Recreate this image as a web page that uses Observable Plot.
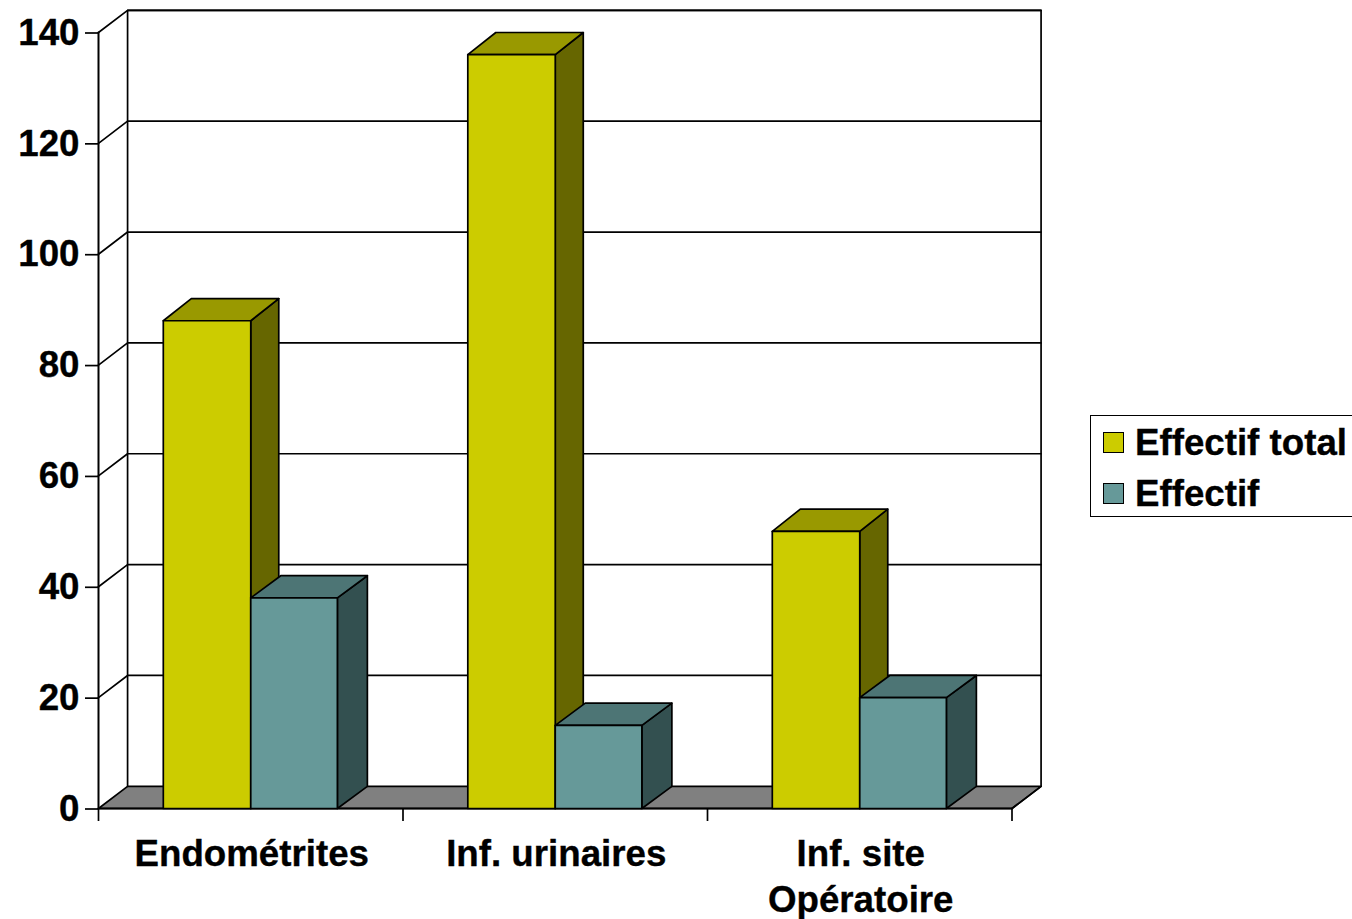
<!DOCTYPE html>
<html lang="fr">
<head>
<meta charset="utf-8">
<title>Effectifs</title>
<script src="https://cdn.jsdelivr.net/npm/d3@7"></script>
<script src="https://cdn.jsdelivr.net/npm/@observablehq/plot@0.6"></script>
<style>
  html, body { margin: 0; padding: 0; background: #fff; overflow: hidden; }
  #wrap { position: relative; width: 1352px; height: 919px; font-family: "Liberation Sans", Arial, sans-serif; }
  #wrap svg { position: absolute; left: 0; top: 0; }
  #wrap svg text { stroke: #000; stroke-width: 0.35px; }
  #legend { position: absolute; left: 1090px; top: 415px; width: 270px; height: 100px; border: 1.7px solid #000; box-sizing: content-box; background: #fff; }
  .entry { position: absolute; left: 12px; height: 22px; }
  .swatch { position: absolute; left: 0; top: 0; width: 19px; height: 19px; border: 1.7px solid #000; }
  .name { position: absolute; left: 32px; top: -9px; font-size: 36.7px; line-height: 40px; font-weight: 700; color: #000; white-space: nowrap; -webkit-text-stroke: 0.35px #000; }
</style>
</head>
<body>
<div id="wrap"></div>
<script>
const categories = ["Endométrites", "Inf. urinaires", "Inf. site\nOpératoire"];
const seriesNames = ["Effectif total", "Effectif"];
const effectifTotal = [88, 136, 50];
const effectif = [38, 15, 20];
const yTicks = [0, 20, 40, 60, 80, 100, 120, 140];
const xTicks = [0, 1, 2, 3];

const palette = [
  {front: "#cccc00", side: "#666600", top: "#999900"},
  {front: "#669999", side: "#335050", top: "#4d7575"}
];

const yMax = 140;
const nCat = categories.length;
const barWs = [0.2872, 0.2845];
const wallDx = 0.0955;
const depthDx = [0.092, 0.0985];
const depthDy = 4;
const sw = 1.7;

const P = (x, y) => ({x, y});
const poly = (pts, fill) => Plot.line(pts, {x: "x", y: "y", fill, stroke: "#000", strokeWidth: sw, curve: "linear-closed"});
const path = (pts, w = sw) => Plot.line(pts, {x: "x", y: "y", stroke: "#000", strokeWidth: w});

const marks = [];

// floor and back wall
marks.push(poly([P(0, 0), P(wallDx, depthDy), P(nCat + wallDx, depthDy), P(nCat, 0)], "#808080"));
marks.push(path([P(wallDx, depthDy), P(wallDx, yMax + depthDy), P(nCat + wallDx, yMax + depthDy), P(nCat + wallDx, depthDy), P(nCat, 0)]));
marks.push(path([P(0, 0), P(0, yMax)], 2));
marks.push(path([P(0, 0), P(nCat, 0)], 2));
// grid lines on the side wall and back wall
for (const v of yTicks.slice(1)) {
  marks.push(path([P(0, v), P(wallDx, v + depthDy), P(nCat + wallDx, v + depthDy)]));
}

// 3D bars
[effectifTotal, effectif].forEach((values, s) => {
  values.forEach((v, i) => {
    const c = palette[s];
    const w = barWs[s];
    const x0 = i + 0.5 + (s === 0 ? -w : 0);
    const x1 = x0 + w;
    const dx = depthDx[s];
    marks.push(poly([P(x1, 0), P(x1 + dx, depthDy), P(x1 + dx, v + depthDy), P(x1, v)], c.side));
    marks.push(poly([P(x0, v), P(x1, v), P(x1 + dx, v + depthDy), P(x0 + dx, v + depthDy)], c.top));
    marks.push(poly([P(x0, 0), P(x1, 0), P(x1, v), P(x0, v)], c.front));
  });
});

// axes
const axisFont = {fontFamily: "Liberation Sans, Arial, sans-serif", fontSize: 36.7, fontWeight: 700, fill: "#000"};
marks.push(Plot.axisY({ticks: yTicks, tickSize: 13, tickPadding: 6, label: null, strokeWidth: 1.7, dy: 0.5, ...axisFont}));
marks.push(Plot.axisX({ticks: xTicks, tickSize: 13, tickFormat: () => "", label: null, strokeWidth: 1.7, ...axisFont}));
marks.push(Plot.text(categories, {
  x: (d, i) => i + 0.5,
  y: () => 0,
  text: d => d,
  dx: 1,
  dy: 25,
  lineAnchor: "top",
  lineHeight: 1.253,
  textAnchor: "middle",
  ...axisFont
}));

const chart = Plot.plot({
  width: 1352,
  height: 919,
  marginLeft: 98,
  marginRight: 340.5,
  marginTop: 32,
  marginBottom: 111,
  x: {domain: [0, nCat], axis: null},
  y: {domain: [0, yMax], axis: null},
  style: {background: "transparent", overflow: "visible"},
  marks
});
const wrap = document.getElementById("wrap");
wrap.appendChild(chart);

const legend = document.createElement("div");
legend.id = "legend";
seriesNames.forEach((name, i) => {
  const e = document.createElement("div");
  e.className = "entry";
  e.style.top = (16 + i * 51) + "px";
  const sq = document.createElement("div");
  sq.className = "swatch";
  sq.style.background = palette[i].front;
  const t = document.createElement("div");
  t.className = "name";
  t.textContent = name;
  e.append(sq, t);
  legend.appendChild(e);
});
wrap.appendChild(legend);
</script>
</body>
</html>
